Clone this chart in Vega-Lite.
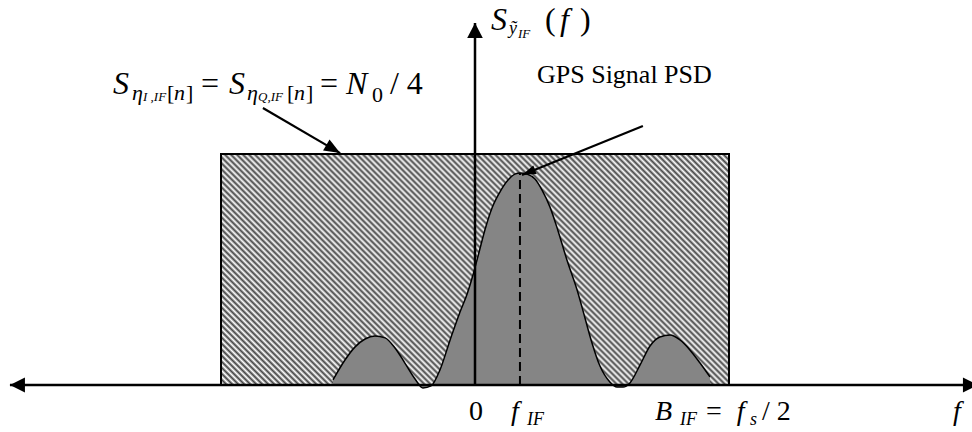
{
  "$schema": "https://vega.github.io/schema/vega-lite/v6.json",
  "width": 972,
  "height": 432,
  "padding": 0,
  "autosize": {"type": "none"},
  "background": "white",
  "config": {"view": {"stroke": null}, "text": {"font": "Liberation Serif", "color": "black", "align": "left", "baseline": "alphabetic"}},
  "datasets": {
    "psd": [
      {"f": -0.559, "v": 0.022}, {"f": -0.512, "v": 0.108}, {"f": -0.472, "v": 0.165},
      {"f": -0.433, "v": 0.199}, {"f": -0.394, "v": 0.212}, {"f": -0.354, "v": 0.204},
      {"f": -0.315, "v": 0.160}, {"f": -0.276, "v": 0.095}, {"f": -0.236, "v": 0.026},
      {"f": -0.205, "v": -0.013}, {"f": -0.173, "v": -0.004}, {"f": -0.138, "v": 0.065},
      {"f": -0.098, "v": 0.195}, {"f": -0.059, "v": 0.316}, {"f": -0.031, "v": 0.394},
      {"f": -0.008, "v": 0.476}, {"f": 0.012, "v": 0.558}, {"f": 0.039, "v": 0.671},
      {"f": 0.067, "v": 0.766}, {"f": 0.098, "v": 0.835}, {"f": 0.130, "v": 0.887},
      {"f": 0.157, "v": 0.913}, {"f": 0.177, "v": 0.918}, {"f": 0.205, "v": 0.913},
      {"f": 0.236, "v": 0.892}, {"f": 0.264, "v": 0.844}, {"f": 0.295, "v": 0.771},
      {"f": 0.327, "v": 0.667}, {"f": 0.362, "v": 0.541}, {"f": 0.402, "v": 0.411},
      {"f": 0.433, "v": 0.290}, {"f": 0.457, "v": 0.195}, {"f": 0.492, "v": 0.082},
      {"f": 0.531, "v": 0.013}, {"f": 0.559, "v": -0.009}, {"f": 0.583, "v": -0.009},
      {"f": 0.610, "v": 0.009}, {"f": 0.650, "v": 0.087}, {"f": 0.689, "v": 0.169},
      {"f": 0.728, "v": 0.208}, {"f": 0.768, "v": 0.216}, {"f": 0.807, "v": 0.195},
      {"f": 0.846, "v": 0.152}, {"f": 0.886, "v": 0.095}, {"f": 0.925, "v": 0.035}
    ],
    "noise": [{"f": -1, "f2": 1, "v": 0, "v2": 1}],
    "axes": [
      {"f": -1.831, "f2": 1.98, "v": 0, "v2": 0},
      {"f": 0, "f2": 0, "v": 0, "v2": 1.567}
    ],
    "pointers": [
      {"f": -0.835, "f2": -0.531, "v": 1.199, "v2": 1.004},
      {"f": 0.661, "f2": 0.185, "v": 1.121, "v2": 0.909}
    ]
  },
  "encoding": {
    "x": {"field": "f", "type": "quantitative", "scale": {"domain": [-1.8701, 1.9567], "nice": false, "zero": false}, "axis": null},
    "y": {"field": "v", "type": "quantitative", "scale": {"domain": [-0.2035, 1.6667], "nice": false, "zero": false}, "axis": null}
  },
  "layer": [
    {
      "data": {"name": "noise"},
      "mark": {
        "type": "rect",
        "stroke": "black",
        "strokeWidth": 2,
        "fill": {
          "gradient": "linear", "x1": 0, "y1": 1, "x2": 1.2054, "y2": 0.4519,
          "stops": [
            {"offset": 0, "color": "#444"}, {"offset": 0.0041, "color": "#fff"}, {"offset": 0.0081, "color": "#444"}, {"offset": 0.0122, "color": "#fff"},
            {"offset": 0.0163, "color": "#444"}, {"offset": 0.0203, "color": "#fff"}, {"offset": 0.0244, "color": "#444"}, {"offset": 0.0285, "color": "#fff"},
            {"offset": 0.0325, "color": "#444"}, {"offset": 0.0366, "color": "#fff"}, {"offset": 0.0407, "color": "#444"}, {"offset": 0.0447, "color": "#fff"},
            {"offset": 0.0488, "color": "#444"}, {"offset": 0.0528, "color": "#fff"}, {"offset": 0.0569, "color": "#444"}, {"offset": 0.0610, "color": "#fff"},
            {"offset": 0.0650, "color": "#444"}, {"offset": 0.0691, "color": "#fff"}, {"offset": 0.0732, "color": "#444"}, {"offset": 0.0772, "color": "#fff"},
            {"offset": 0.0813, "color": "#444"}, {"offset": 0.0854, "color": "#fff"}, {"offset": 0.0894, "color": "#444"}, {"offset": 0.0935, "color": "#fff"},
            {"offset": 0.0976, "color": "#444"}, {"offset": 0.1016, "color": "#fff"}, {"offset": 0.1057, "color": "#444"}, {"offset": 0.1098, "color": "#fff"},
            {"offset": 0.1138, "color": "#444"}, {"offset": 0.1179, "color": "#fff"}, {"offset": 0.1220, "color": "#444"}, {"offset": 0.1260, "color": "#fff"},
            {"offset": 0.1301, "color": "#444"}, {"offset": 0.1341, "color": "#fff"}, {"offset": 0.1382, "color": "#444"}, {"offset": 0.1423, "color": "#fff"},
            {"offset": 0.1463, "color": "#444"}, {"offset": 0.1504, "color": "#fff"}, {"offset": 0.1545, "color": "#444"}, {"offset": 0.1585, "color": "#fff"},
            {"offset": 0.1626, "color": "#444"}, {"offset": 0.1667, "color": "#fff"}, {"offset": 0.1707, "color": "#444"}, {"offset": 0.1748, "color": "#fff"},
            {"offset": 0.1789, "color": "#444"}, {"offset": 0.1829, "color": "#fff"}, {"offset": 0.1870, "color": "#444"}, {"offset": 0.1911, "color": "#fff"},
            {"offset": 0.1951, "color": "#444"}, {"offset": 0.1992, "color": "#fff"}, {"offset": 0.2033, "color": "#444"}, {"offset": 0.2073, "color": "#fff"},
            {"offset": 0.2114, "color": "#444"}, {"offset": 0.2154, "color": "#fff"}, {"offset": 0.2195, "color": "#444"}, {"offset": 0.2236, "color": "#fff"},
            {"offset": 0.2276, "color": "#444"}, {"offset": 0.2317, "color": "#fff"}, {"offset": 0.2358, "color": "#444"}, {"offset": 0.2398, "color": "#fff"},
            {"offset": 0.2439, "color": "#444"}, {"offset": 0.2480, "color": "#fff"}, {"offset": 0.2520, "color": "#444"}, {"offset": 0.2561, "color": "#fff"},
            {"offset": 0.2602, "color": "#444"}, {"offset": 0.2642, "color": "#fff"}, {"offset": 0.2683, "color": "#444"}, {"offset": 0.2724, "color": "#fff"},
            {"offset": 0.2764, "color": "#444"}, {"offset": 0.2805, "color": "#fff"}, {"offset": 0.2846, "color": "#444"}, {"offset": 0.2886, "color": "#fff"},
            {"offset": 0.2927, "color": "#444"}, {"offset": 0.2967, "color": "#fff"}, {"offset": 0.3008, "color": "#444"}, {"offset": 0.3049, "color": "#fff"},
            {"offset": 0.3089, "color": "#444"}, {"offset": 0.3130, "color": "#fff"}, {"offset": 0.3171, "color": "#444"}, {"offset": 0.3211, "color": "#fff"},
            {"offset": 0.3252, "color": "#444"}, {"offset": 0.3293, "color": "#fff"}, {"offset": 0.3333, "color": "#444"}, {"offset": 0.3374, "color": "#fff"},
            {"offset": 0.3415, "color": "#444"}, {"offset": 0.3455, "color": "#fff"}, {"offset": 0.3496, "color": "#444"}, {"offset": 0.3537, "color": "#fff"},
            {"offset": 0.3577, "color": "#444"}, {"offset": 0.3618, "color": "#fff"}, {"offset": 0.3659, "color": "#444"}, {"offset": 0.3699, "color": "#fff"},
            {"offset": 0.3740, "color": "#444"}, {"offset": 0.3780, "color": "#fff"}, {"offset": 0.3821, "color": "#444"}, {"offset": 0.3862, "color": "#fff"},
            {"offset": 0.3902, "color": "#444"}, {"offset": 0.3943, "color": "#fff"}, {"offset": 0.3984, "color": "#444"}, {"offset": 0.4024, "color": "#fff"},
            {"offset": 0.4065, "color": "#444"}, {"offset": 0.4106, "color": "#fff"}, {"offset": 0.4146, "color": "#444"}, {"offset": 0.4187, "color": "#fff"},
            {"offset": 0.4228, "color": "#444"}, {"offset": 0.4268, "color": "#fff"}, {"offset": 0.4309, "color": "#444"}, {"offset": 0.4350, "color": "#fff"},
            {"offset": 0.4390, "color": "#444"}, {"offset": 0.4431, "color": "#fff"}, {"offset": 0.4472, "color": "#444"}, {"offset": 0.4512, "color": "#fff"},
            {"offset": 0.4553, "color": "#444"}, {"offset": 0.4593, "color": "#fff"}, {"offset": 0.4634, "color": "#444"}, {"offset": 0.4675, "color": "#fff"},
            {"offset": 0.4715, "color": "#444"}, {"offset": 0.4756, "color": "#fff"}, {"offset": 0.4797, "color": "#444"}, {"offset": 0.4837, "color": "#fff"},
            {"offset": 0.4878, "color": "#444"}, {"offset": 0.4919, "color": "#fff"}, {"offset": 0.4959, "color": "#444"}, {"offset": 0.5000, "color": "#fff"},
            {"offset": 0.5041, "color": "#444"}, {"offset": 0.5081, "color": "#fff"}, {"offset": 0.5122, "color": "#444"}, {"offset": 0.5163, "color": "#fff"},
            {"offset": 0.5203, "color": "#444"}, {"offset": 0.5244, "color": "#fff"}, {"offset": 0.5285, "color": "#444"}, {"offset": 0.5325, "color": "#fff"},
            {"offset": 0.5366, "color": "#444"}, {"offset": 0.5407, "color": "#fff"}, {"offset": 0.5447, "color": "#444"}, {"offset": 0.5488, "color": "#fff"},
            {"offset": 0.5528, "color": "#444"}, {"offset": 0.5569, "color": "#fff"}, {"offset": 0.5610, "color": "#444"}, {"offset": 0.5650, "color": "#fff"},
            {"offset": 0.5691, "color": "#444"}, {"offset": 0.5732, "color": "#fff"}, {"offset": 0.5772, "color": "#444"}, {"offset": 0.5813, "color": "#fff"},
            {"offset": 0.5854, "color": "#444"}, {"offset": 0.5894, "color": "#fff"}, {"offset": 0.5935, "color": "#444"}, {"offset": 0.5976, "color": "#fff"},
            {"offset": 0.6016, "color": "#444"}, {"offset": 0.6057, "color": "#fff"}, {"offset": 0.6098, "color": "#444"}, {"offset": 0.6138, "color": "#fff"},
            {"offset": 0.6179, "color": "#444"}, {"offset": 0.6220, "color": "#fff"}, {"offset": 0.6260, "color": "#444"}, {"offset": 0.6301, "color": "#fff"},
            {"offset": 0.6341, "color": "#444"}, {"offset": 0.6382, "color": "#fff"}, {"offset": 0.6423, "color": "#444"}, {"offset": 0.6463, "color": "#fff"},
            {"offset": 0.6504, "color": "#444"}, {"offset": 0.6545, "color": "#fff"}, {"offset": 0.6585, "color": "#444"}, {"offset": 0.6626, "color": "#fff"},
            {"offset": 0.6667, "color": "#444"}, {"offset": 0.6707, "color": "#fff"}, {"offset": 0.6748, "color": "#444"}, {"offset": 0.6789, "color": "#fff"},
            {"offset": 0.6829, "color": "#444"}, {"offset": 0.6870, "color": "#fff"}, {"offset": 0.6911, "color": "#444"}, {"offset": 0.6951, "color": "#fff"},
            {"offset": 0.6992, "color": "#444"}, {"offset": 0.7033, "color": "#fff"}, {"offset": 0.7073, "color": "#444"}, {"offset": 0.7114, "color": "#fff"},
            {"offset": 0.7154, "color": "#444"}, {"offset": 0.7195, "color": "#fff"}, {"offset": 0.7236, "color": "#444"}, {"offset": 0.7276, "color": "#fff"},
            {"offset": 0.7317, "color": "#444"}, {"offset": 0.7358, "color": "#fff"}, {"offset": 0.7398, "color": "#444"}, {"offset": 0.7439, "color": "#fff"},
            {"offset": 0.7480, "color": "#444"}, {"offset": 0.7520, "color": "#fff"}, {"offset": 0.7561, "color": "#444"}, {"offset": 0.7602, "color": "#fff"},
            {"offset": 0.7642, "color": "#444"}, {"offset": 0.7683, "color": "#fff"}, {"offset": 0.7724, "color": "#444"}, {"offset": 0.7764, "color": "#fff"},
            {"offset": 0.7805, "color": "#444"}, {"offset": 0.7846, "color": "#fff"}, {"offset": 0.7886, "color": "#444"}, {"offset": 0.7927, "color": "#fff"},
            {"offset": 0.7967, "color": "#444"}, {"offset": 0.8008, "color": "#fff"}, {"offset": 0.8049, "color": "#444"}, {"offset": 0.8089, "color": "#fff"},
            {"offset": 0.8130, "color": "#444"}, {"offset": 0.8171, "color": "#fff"}, {"offset": 0.8211, "color": "#444"}, {"offset": 0.8252, "color": "#fff"},
            {"offset": 0.8293, "color": "#444"}, {"offset": 0.8333, "color": "#fff"}, {"offset": 0.8374, "color": "#444"}, {"offset": 0.8415, "color": "#fff"},
            {"offset": 0.8455, "color": "#444"}, {"offset": 0.8496, "color": "#fff"}, {"offset": 0.8537, "color": "#444"}, {"offset": 0.8577, "color": "#fff"},
            {"offset": 0.8618, "color": "#444"}, {"offset": 0.8659, "color": "#fff"}, {"offset": 0.8699, "color": "#444"}, {"offset": 0.8740, "color": "#fff"},
            {"offset": 0.8780, "color": "#444"}, {"offset": 0.8821, "color": "#fff"}, {"offset": 0.8862, "color": "#444"}, {"offset": 0.8902, "color": "#fff"},
            {"offset": 0.8943, "color": "#444"}, {"offset": 0.8984, "color": "#fff"}, {"offset": 0.9024, "color": "#444"}, {"offset": 0.9065, "color": "#fff"},
            {"offset": 0.9106, "color": "#444"}, {"offset": 0.9146, "color": "#fff"}, {"offset": 0.9187, "color": "#444"}, {"offset": 0.9228, "color": "#fff"},
            {"offset": 0.9268, "color": "#444"}, {"offset": 0.9309, "color": "#fff"}, {"offset": 0.9350, "color": "#444"}, {"offset": 0.9390, "color": "#fff"},
            {"offset": 0.9431, "color": "#444"}, {"offset": 0.9472, "color": "#fff"}, {"offset": 0.9512, "color": "#444"}, {"offset": 0.9553, "color": "#fff"},
            {"offset": 0.9593, "color": "#444"}, {"offset": 0.9634, "color": "#fff"}, {"offset": 0.9675, "color": "#444"}, {"offset": 0.9715, "color": "#fff"},
            {"offset": 0.9756, "color": "#444"}, {"offset": 0.9797, "color": "#fff"}, {"offset": 0.9837, "color": "#444"}, {"offset": 0.9878, "color": "#fff"},
            {"offset": 0.9919, "color": "#444"}, {"offset": 0.9959, "color": "#fff"}, {"offset": 1, "color": "#444"}
          ]
        }
      },
      "encoding": {"x2": {"field": "f2"}, "y2": {"field": "v2"}}
    },
    {
      "data": {"name": "psd"},
      "mark": {"type": "area", "interpolate": "monotone", "color": "#858585", "opacity": 1},
      "encoding": {"y2": {"datum": 0}}
    },
    {
      "data": {"name": "psd"},
      "mark": {"type": "line", "interpolate": "monotone", "color": "black", "strokeWidth": 1.5}
    },
    {
      "data": {"values": [{"f": 0.177, "v": 0, "v2": 0.918}]},
      "mark": {"type": "rule", "color": "black", "strokeWidth": 2, "strokeDash": [9, 5]},
      "encoding": {"y2": {"field": "v2"}}
    },
    {
      "data": {"name": "axes"},
      "mark": {"type": "rule", "color": "black", "strokeWidth": 2.5},
      "encoding": {"x2": {"field": "f2"}, "y2": {"field": "v2"}}
    },
    {
      "data": {"name": "pointers"},
      "mark": {"type": "rule", "color": "black", "strokeWidth": 2.2},
      "encoding": {"x2": {"field": "f2"}, "y2": {"field": "v2"}}
    },
    {
      "data": {"values": [{"f": 1.98, "v": 0}]},
      "mark": {"type": "point", "shape": "M0,0L-1,-0.5L-1,0.5Z", "size": 900, "filled": true, "color": "black", "opacity": 1, "strokeWidth": 0, "angle": 0}
    },
    {
      "data": {"values": [{"f": -1.831, "v": 0}]},
      "mark": {"type": "point", "shape": "M0,0L-1,-0.5L-1,0.5Z", "size": 900, "filled": true, "color": "black", "opacity": 1, "strokeWidth": 0, "angle": 180}
    },
    {
      "data": {"values": [{"f": 0, "v": 1.567}]},
      "mark": {"type": "point", "shape": "M0,0L-1,-0.52L-1,0.52Z", "size": 900, "filled": true, "color": "black", "opacity": 1, "strokeWidth": 0, "angle": 270}
    },
    {
      "data": {"values": [{"f": -0.531, "v": 1.004}]},
      "mark": {"type": "point", "shape": "M0,0L-1,-0.4L-1,0.4Z", "size": 1024, "filled": true, "color": "black", "opacity": 1, "strokeWidth": 0, "angle": 30.3}
    },
    {
      "data": {"values": [{"f": 0.185, "v": 0.909}]},
      "mark": {"type": "point", "shape": "M0,0L-1,-0.32L-1,0.32Z", "size": 784, "filled": true, "color": "black", "opacity": 1, "strokeWidth": 0, "angle": 157.95}
    },
    {
      "data": {"values": [
        {"t": "S", "f": -1.425, "v": 1.260},
        {"t": "S", "f": -0.969, "v": 1.260},
        {"t": "N", "f": -0.508, "v": 1.260},
        {"t": "S", "f": 0.063, "v": 1.537},
        {"t": "f", "f": 0.335, "v": 1.537}
      ]},
      "mark": {"type": "text", "font": "Liberation Serif", "fontStyle": "italic", "fontSize": 32},
      "encoding": {"text": {"field": "t", "type": "nominal"}}
    },
    {
      "data": {"values": [
        {"t": "=", "f": -1.079, "v": 1.260},
        {"t": "=", "f": -0.610, "v": 1.260},
        {"t": "/ 4", "f": -0.335, "v": 1.260},
        {"t": "(", "f": 0.276, "v": 1.537},
        {"t": ")", "f": 0.413, "v": 1.537}
      ]},
      "mark": {"type": "text", "font": "Liberation Serif", "fontSize": 32},
      "encoding": {"text": {"field": "t", "type": "nominal"}}
    },
    {
      "data": {"values": [
        {"t": "η", "f": -1.350, "v": 1.234},
        {"t": "n", "f": -1.185, "v": 1.234},
        {"t": "η", "f": -0.898, "v": 1.234},
        {"t": "n", "f": -0.713, "v": 1.234}
      ]},
      "mark": {"type": "text", "font": "Liberation Serif", "fontStyle": "italic", "fontSize": 22},
      "encoding": {"text": {"field": "t", "type": "nominal"}}
    },
    {
      "data": {"values": [
        {"t": "[", "f": -1.213, "v": 1.234},
        {"t": "]", "f": -1.138, "v": 1.234},
        {"t": "[", "f": -0.740, "v": 1.234},
        {"t": "]", "f": -0.665, "v": 1.234},
        {"t": "0", "f": -0.406, "v": 1.225}
      ]},
      "mark": {"type": "text", "font": "Liberation Serif", "fontSize": 22},
      "encoding": {"text": {"field": "t", "type": "nominal"}}
    },
    {
      "data": {"values": [
        {"t": "I ,IF", "f": -1.307, "v": 1.229},
        {"t": "Q,IF", "f": -0.854, "v": 1.229},
        {"t": "IF", "f": 0.169, "v": 1.502}
      ]},
      "mark": {"type": "text", "font": "Liberation Serif", "fontStyle": "italic", "fontSize": 13},
      "encoding": {"text": {"field": "t", "type": "nominal"}}
    },
    {
      "data": {"values": [
        {"t": "ỹ", "f": 0.134, "v": 1.519},
        {"t": "IF", "f": 0.205, "v": -0.173},
        {"t": "IF", "f": 0.807, "v": -0.173},
        {"t": "s", "f": 1.083, "v": -0.173}
      ]},
      "mark": {"type": "text", "font": "Liberation Serif", "fontStyle": "italic", "fontSize": 18},
      "encoding": {"text": {"field": "t", "type": "nominal"}}
    },
    {
      "data": {"values": [
        {"t": "f", "f": 0.142, "v": -0.152},
        {"t": "B", "f": 0.709, "v": -0.152},
        {"t": "f", "f": 1.031, "v": -0.152},
        {"t": "f", "f": 1.882, "v": -0.152}
      ]},
      "mark": {"type": "text", "font": "Liberation Serif", "fontStyle": "italic", "fontSize": 28},
      "encoding": {"text": {"field": "t", "type": "nominal"}}
    },
    {
      "data": {"values": [
        {"t": "0", "f": -0.024, "v": -0.152},
        {"t": "=", "f": 0.909, "v": -0.152},
        {"t": "/ 2", "f": 1.130, "v": -0.152}
      ]},
      "mark": {"type": "text", "font": "Liberation Serif", "fontSize": 28},
      "encoding": {"text": {"field": "t", "type": "nominal"}}
    },
    {
      "data": {"values": [{"t": "GPS Signal PSD", "f": 0.244, "v": 1.307}]},
      "mark": {"type": "text", "font": "Liberation Serif", "fontSize": 26},
      "encoding": {"text": {"field": "t", "type": "nominal"}}
    }
  ]
}
